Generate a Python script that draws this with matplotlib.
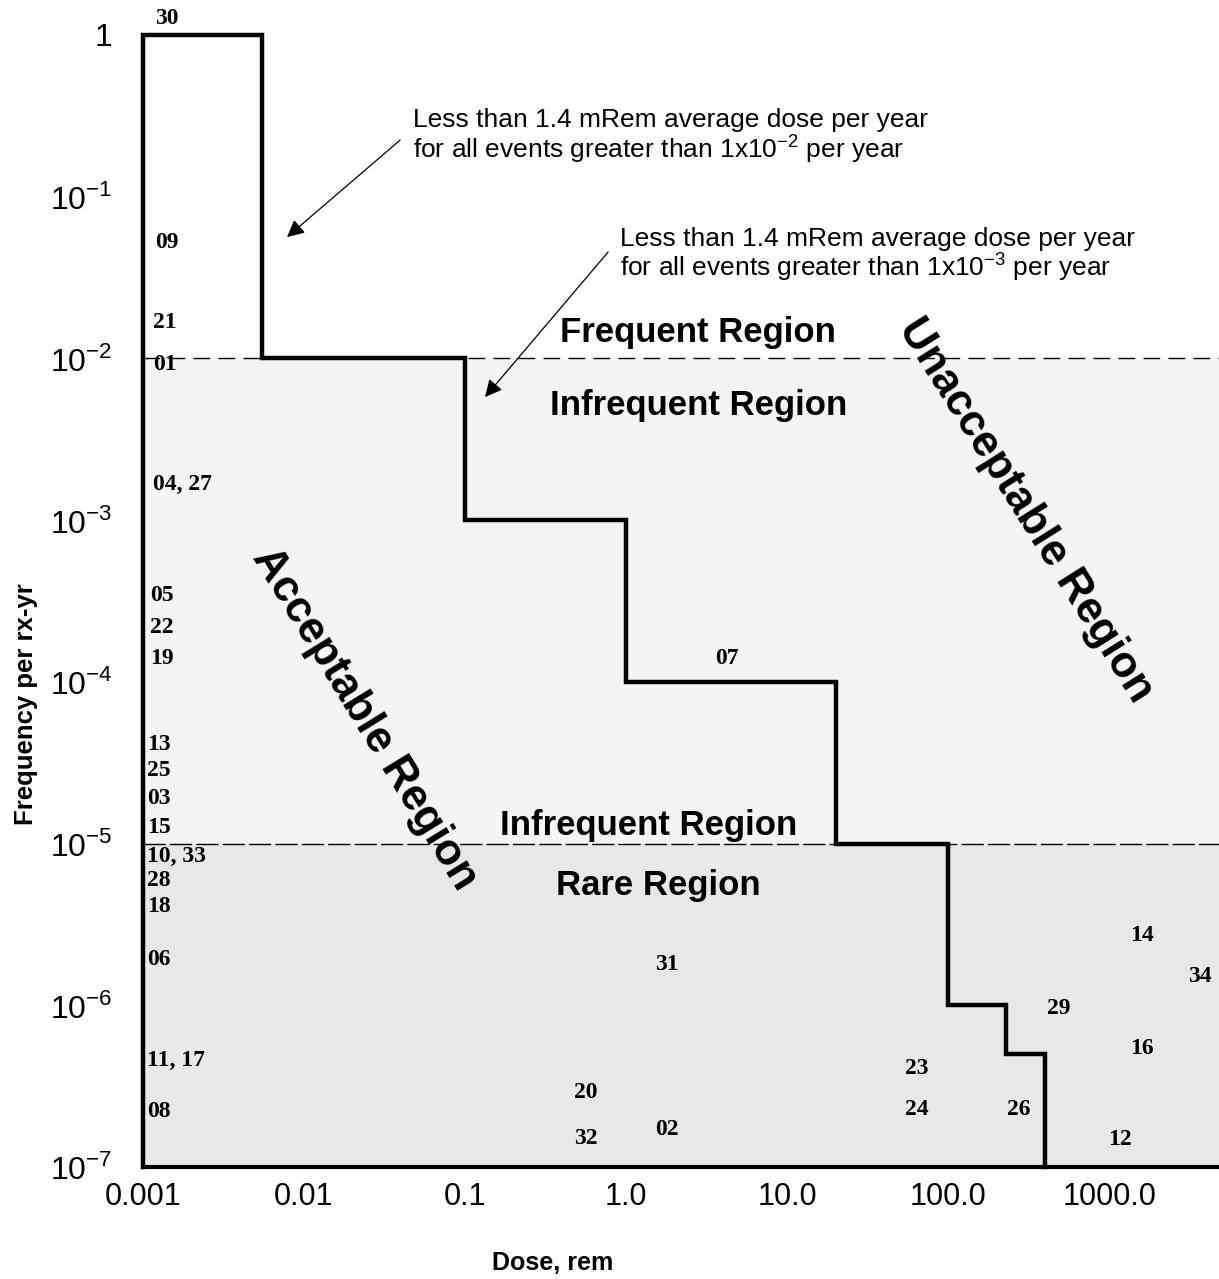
import matplotlib
matplotlib.use('Agg')
import matplotlib.pyplot as plt

# limit curve (dose in rem, frequency per rx-yr)
step_dose = [0.001, 0.001, 0.0055, 0.0055, 0.1, 0.1, 1.0, 1.0, 20.0, 20.0,
             100.0, 100.0, 230.0, 230.0, 400.0, 400.0]
step_freq = [1e-7, 1.0, 1.0, 1e-2, 1e-2, 1e-3, 1e-3, 1e-4, 1e-4, 1e-5,
             1e-5, 1e-6, 1e-6, 5e-7, 5e-7, 1e-7]

# event numbers and where they sit
event_ids = ['30', '09', '21', '01', '04, 27', '05', '22', '19', '07', '13', '25',
             '03', '15', '10, 33', '28', '18', '06', '31', '11, 17', '20', '08',
             '32', '02', '23', '24', '26', '29', '14', '34', '16', '12']
event_dose = [0.00119, 0.00119, 0.00115, 0.00115, 0.00115, 0.0011, 0.0011, 0.0011,
              3.57, 0.00106, 0.00106, 0.00106, 0.00106, 0.00106, 0.00106, 0.00106,
              0.00106, 1.51, 0.00106, 0.475, 0.00106, 0.475, 1.51, 54.0, 54.0,
              232.0, 412.0, 1350.0, 3100.0, 1350.0, 986.0]
event_freq = [1.27, 0.052, 0.0167, 0.0092, 1.67e-3, 3.44e-4, 2.18e-4, 1.40e-4,
              1.39e-4, 4.1e-5, 2.85e-5, 1.90e-5, 1.26e-5, 8.3e-6, 5.9e-6,
              4.07e-6, 1.91e-6, 1.78e-6, 4.59e-7, 2.87e-7, 2.19e-7, 1.49e-7,
              1.71e-7, 4.04e-7, 2.28e-7, 2.28e-7, 9.6e-7, 2.69e-6, 1.50e-6,
              5.37e-7, 1.47e-7]

x_ticks = [0.001, 0.01, 0.1, 1.0, 10.0, 100.0, 1000.0]
x_tick_labels = ['0.001', '0.01', '0.1', '1.0', '10.0', '100.0', '1000.0']
y_ticks = [1, 1e-1, 1e-2, 1e-3, 1e-4, 1e-5, 1e-6, 1e-7]
y_tick_labels = ['1', '$10^{-1}$', '$10^{-2}$', '$10^{-3}$', '$10^{-4}$',
                 '$10^{-5}$', '$10^{-6}$', '$10^{-7}$']

note_1 = 'Less than 1.4 mRem average dose per year\nfor all events greater than 1x10$^{-2}$ per year'
note_2 = 'Less than 1.4 mRem average dose per year\nfor all events greater than 1x10$^{-3}$ per year'

sans = ['Liberation Sans', 'DejaVu Sans']
serif = ['Liberation Serif', 'DejaVu Serif']
plt.rcParams['font.family'] = sans
plt.rcParams['mathtext.fontset'] = 'custom'
plt.rcParams['mathtext.rm'] = 'Liberation Sans'

fig = plt.figure(figsize=(12.19, 12.79), dpi=100)
ax = fig.add_axes([143 / 1219, 1 - 1167 / 1279, 1 - 143 / 1219, (1167 - 35) / 1279])
ax.set_xscale('log')
ax.set_yscale('log')
ax.set_xlim(0.001, 4800)
ax.set_ylim(1e-7, 1.0)
for s in ax.spines.values():
    s.set_visible(False)

# shaded (stippled in the original) regions
ax.axhspan(1e-5, 1e-2, facecolor='#f4f4f4', lw=0, zorder=0)
ax.axhspan(1e-7, 1e-5, facecolor='#e8e8e8', lw=0, zorder=0)

ax.axhline(1e-2, color='black', lw=1.0, ls=(0, (12, 6)), zorder=1)
ax.axhline(1e-5, color='black', lw=1.0, ls=(0, (16, 3)), zorder=1)
ax.axhline(1e-7, color='black', lw=3.0, zorder=3, clip_on=False)

ax.plot(step_dose, step_freq, color='black', lw=3.2, solid_joinstyle='miter',
        zorder=4, clip_on=False)

ax.set_xticks(x_ticks)
ax.set_xticklabels(x_tick_labels)
ax.set_yticks(y_ticks)
ax.set_yticklabels(y_tick_labels)
ax.minorticks_off()
ax.tick_params(axis='x', length=0, labelsize=22, pad=11)
ax.tick_params(axis='y', length=0, labelsize=23, pad=22)

ax.set_xlabel('Dose, rem', fontsize=18, fontweight='bold')
ax.xaxis.set_label_coords(0.381, -0.074)
ax.set_ylabel('Frequency per rx-yr', fontsize=18.5, fontweight='bold')
ax.yaxis.set_label_coords(-0.098, 0.409)

for lab, d, f in zip(event_ids, event_dose, event_freq):
    ax.text(d, f, lab, family=serif, fontweight='bold', fontsize=17,
            ha='left', va='center', zorder=5, clip_on=False)

# region names
ax.text(2.8, 1.44e-2, 'Frequent Region', fontsize=25, fontweight='bold', ha='center', va='center')
ax.text(2.8, 5.15e-3, 'Infrequent Region', fontsize=25, fontweight='bold', ha='center', va='center')
ax.text(1.37, 1.30e-5, 'Infrequent Region', fontsize=25, fontweight='bold', ha='center', va='center')
ax.text(1.58, 5.54e-6, 'Rare Region', fontsize=25, fontweight='bold', ha='center', va='center')
ax.text(0.0239, 5.9e-5, 'Acceptable Region', fontsize=31.5, fontweight='bold', rotation=-58.4,
        ha='center', va='center', rotation_mode='anchor')
ax.text(300, 1.15e-3, 'Unacceptable Region', fontsize=31.5, fontweight='bold', rotation=-57.9,
        ha='center', va='center', rotation_mode='anchor')

# notes with arrows
arrow = dict(arrowstyle='-|>', color='black', lw=0.9, mutation_scale=26,
             shrinkA=0, shrinkB=0)
ax.text(0.0475, 0.235, note_1, fontsize=19, ha='left', va='center', linespacing=1.0)
ax.annotate('', xy=(0.00784, 0.0563), xytext=(0.0395, 0.224), arrowprops=arrow)
ax.text(0.918, 0.0436, note_2, fontsize=19, ha='left', va='center', linespacing=1.0)
ax.annotate('', xy=(0.133, 5.77e-3), xytext=(0.773, 0.0455), arrowprops=arrow)

fig.savefig('out.png', dpi=100)
